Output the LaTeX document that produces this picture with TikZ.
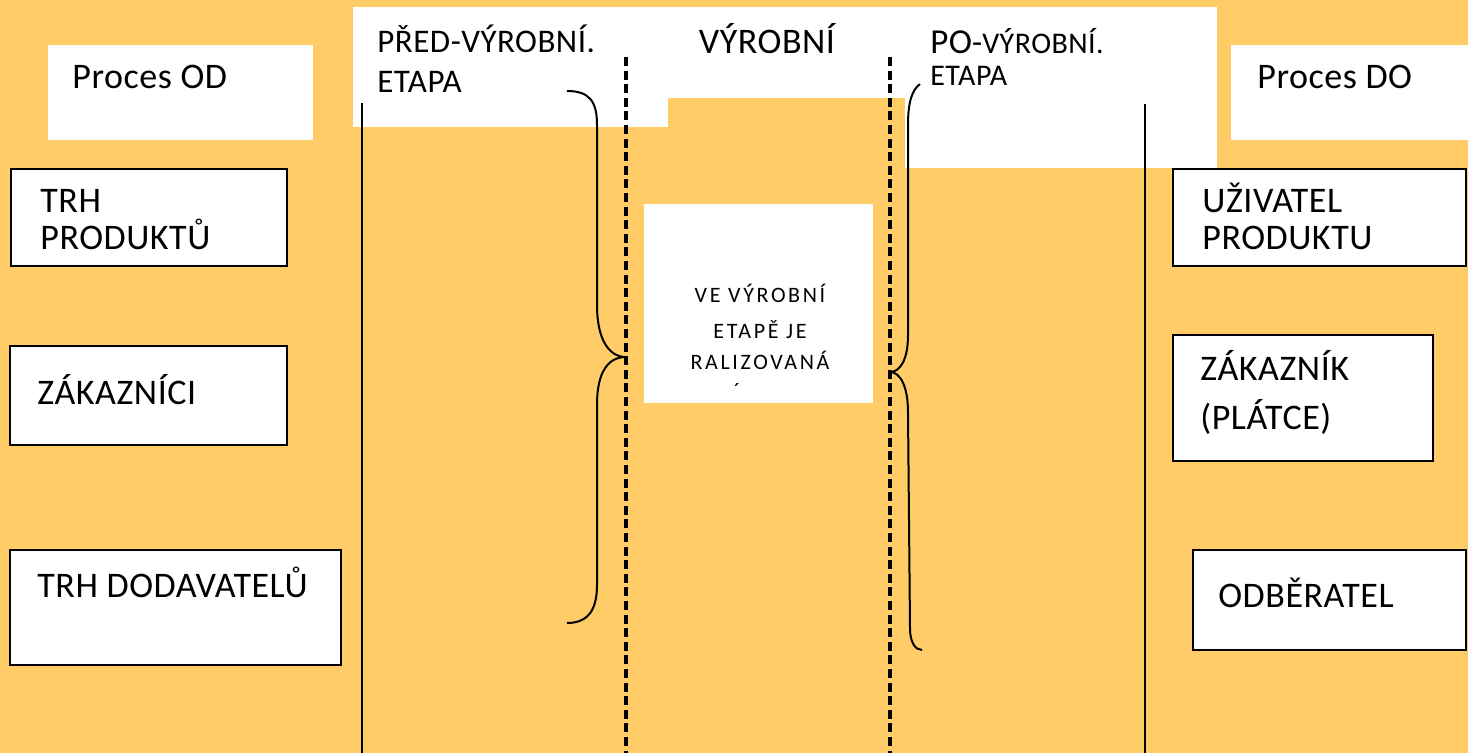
\documentclass[tikz,border=0pt]{standalone}
\usepackage{fontspec}
\setmainfont[LetterSpace=1.5]{Carlito}
\newfontfamily\wide[LetterSpace=12]{Carlito}
\usetikzlibrary{positioning}
\definecolor{sand}{RGB}{255,204,104}

\begin{document}
\begin{tikzpicture}[x=0.5pt, y=-0.5pt,
    lbl/.style={anchor=base west, inner sep=0pt, font=\fontsize{18}{20}\selectfont},
    head/.style={anchor=base west, inner sep=0pt, font=\fontsize{16.5}{18}\selectfont},
    note/.style={anchor=base, inner sep=0pt, font=\wide\fontsize{11}{12}\selectfont},
    frame/.style={draw=black, fill=white, line width=1.1pt},
    stage/.style={line width=1.6pt, dash pattern=on 4.5pt off 2.3pt},
    edge/.style={line width=0.9pt},
    brace/.style={line width=1pt, line join=round}]
            % background and white header bands
            \fill[sand]  (0,0)     rectangle (1468,753);
            \fill[white] (353,7)   rectangle (668,127);
            \fill[white] (668,7)   rectangle (905,98);
            \fill[white] (905,7)   rectangle (1217,168);
            \fill[white] (48,45)   rectangle (313,140);
            \fill[white] (1231,45) rectangle (1468,140);
            \fill[white] (644,204) rectangle (873,403);
            % framed boxes
            \filldraw[frame] (11,169)   rectangle (287,266);
            \filldraw[frame] (10,346)   rectangle (287,445);
            \filldraw[frame] (10,550)   rectangle (341,665);
            \filldraw[frame] (1173,169) rectangle (1466,266);
            \filldraw[frame] (1173,335) rectangle (1433,461);
            \filldraw[frame] (1193,550) rectangle (1466,650);
            % stage borders
            \draw[edge]  (362,103)  -- (362,753);
            \draw[edge]  (1145,104) -- (1145,753);
            \draw[stage] (626,57)   -- (626,753);
            \draw[stage] (890,57)   -- (890,753);
            % braces
            \draw[brace] (567,91) .. controls (590,91) and (597,102) .. (597,125) -- (597,305)
                 .. controls (597,338) and (608,357) .. (626,357)
                 .. controls (608,357) and (597,372) .. (597,405) -- (597,585)
                 .. controls (597,610) and (588,623) .. (567,623);
            \draw[brace] (920,84) .. controls (912,90) and (908,102) .. (908,125) -- (908,335)
                 .. controls (908,360) and (900,372) .. (890,372)
                 .. controls (900,372) and (908,386) .. (908,412) -- (910,628)
                 .. controls (910,642) and (915,650) .. (922,650);
            % texts
            \node[lbl]  (procesOD)  at (72,88)    {Proces OD};
            \node[lbl]  (procesDO)  at (1257,88)  {Proces DO};
            \node[head] (pred1)     at (377,52)   {PŘED-VÝROBNÍ.};
            \node[head] (pred2)     at (377,92)   {ETAPA};
            \node[anchor=base, inner sep=0pt, font=\fontsize{18}{20}\selectfont]
                        (vyrobni)   at (767,54)   {VÝROBNÍ};
            \node[head] (po1)       at (930,54)   {{\fontsize{17.5}{18}\selectfont PO}-{\fontsize{15}{18}\selectfont VÝROBNÍ.}};
            \node[head, font=\fontsize{15}{18}\selectfont] (po2) at (930,85) {ETAPA};
            \node[lbl]  (trh1)      at (40,212)   {TRH};
            \node[lbl]  (trh2)      at (40,249)   {PRODUKTŮ};
            \node[lbl]  (zakaznici) at (37,404)   {ZÁKAZNÍCI};
            \node[lbl]  (trhdod)    at (37,597)   {TRH DODAVATELŮ};
            \node[lbl]  (uziv1)     at (1202,212) {UŽIVATEL};
            \node[lbl]  (uziv2)     at (1202,249) {PRODUKTU};
            \node[lbl]  (zak1)      at (1200,380) {ZÁKAZNÍK};
            \node[lbl]  (zak2)      at (1200,429) {(PLÁTCE)};
            \node[lbl]  (odberatel) at (1218,607) {ODBĚRATEL};
            \node[note] (ve1)       at (760,302)  {VE VÝROBNÍ};
            \node[note] (ve2)       at (760,338)  {ETAPĚ JE};
            \node[note] (ve3)       at (760,369)  {RALIZOVANÁ};
            \node[note] (ve4)       at (737,398)  {´};
        \end{tikzpicture}
\end{document}
